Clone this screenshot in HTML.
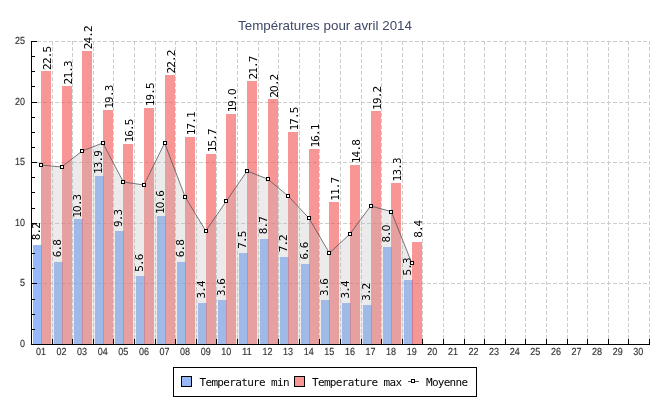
<!DOCTYPE html>
<html lang="fr"><head><meta charset="utf-8"><title>Températures pour avril 2014</title>
<style>html,body{margin:0;padding:0;background:#fff}body{width:650px;height:400px;overflow:hidden}svg{display:block;will-change:transform}.ax{font-family:"Liberation Sans",sans-serif;font-size:10.3px;text-rendering:geometricPrecision;fill:#333;stroke:#333;stroke-width:0.15px}.mono{font-family:"DejaVu Sans Mono","Liberation Mono",monospace;font-size:11px;fill:#000}.z{font-family:"DejaVu Sans","Liberation Sans",sans-serif}.ttl{font-family:"Liberation Sans",sans-serif;font-size:13.3px;fill:#3f4868}</style></head><body>
<svg width="650" height="400" viewBox="0 0 650 400">
<rect width="650" height="400" fill="#fff"/>
<text class="ttl" x="238" y="30" textLength="174" lengthAdjust="spacingAndGlyphs">Températures pour avril 2014</text>
<g stroke="#cdcdcd" stroke-width="1" stroke-dasharray="4 2" shape-rendering="crispEdges" fill="none">
<line x1="31" y1="283.5" x2="650" y2="283.5"/>
<line x1="31" y1="223.5" x2="650" y2="223.5"/>
<line x1="31" y1="162.5" x2="650" y2="162.5"/>
<line x1="31" y1="102.5" x2="650" y2="102.5"/>
<line x1="31" y1="41.5" x2="650" y2="41.5"/>
<line x1="52.5" y1="41" x2="52.5" y2="344"/>
<line x1="72.5" y1="41" x2="72.5" y2="344"/>
<line x1="93.5" y1="41" x2="93.5" y2="344"/>
<line x1="113.5" y1="41" x2="113.5" y2="344"/>
<line x1="134.5" y1="41" x2="134.5" y2="344"/>
<line x1="155.5" y1="41" x2="155.5" y2="344"/>
<line x1="175.5" y1="41" x2="175.5" y2="344"/>
<line x1="196.5" y1="41" x2="196.5" y2="344"/>
<line x1="216.5" y1="41" x2="216.5" y2="344"/>
<line x1="237.5" y1="41" x2="237.5" y2="344"/>
<line x1="258.5" y1="41" x2="258.5" y2="344"/>
<line x1="278.5" y1="41" x2="278.5" y2="344"/>
<line x1="299.5" y1="41" x2="299.5" y2="344"/>
<line x1="319.5" y1="41" x2="319.5" y2="344"/>
<line x1="340.5" y1="41" x2="340.5" y2="344"/>
<line x1="361.5" y1="41" x2="361.5" y2="344"/>
<line x1="381.5" y1="41" x2="381.5" y2="344"/>
<line x1="402.5" y1="41" x2="402.5" y2="344"/>
<line x1="422.5" y1="41" x2="422.5" y2="344"/>
<line x1="443.5" y1="41" x2="443.5" y2="344"/>
<line x1="464.5" y1="41" x2="464.5" y2="344"/>
<line x1="484.5" y1="41" x2="484.5" y2="344"/>
<line x1="505.5" y1="41" x2="505.5" y2="344"/>
<line x1="525.5" y1="41" x2="525.5" y2="344"/>
<line x1="546.5" y1="41" x2="546.5" y2="344"/>
<line x1="567.5" y1="41" x2="567.5" y2="344"/>
<line x1="587.5" y1="41" x2="587.5" y2="344"/>
<line x1="608.5" y1="41" x2="608.5" y2="344"/>
<line x1="628.5" y1="41" x2="628.5" y2="344"/>
<line x1="649.5" y1="41" x2="649.5" y2="344"/>
</g>
<g shape-rendering="crispEdges">
<rect x="33" y="244.6" width="9" height="99.4" fill="rgba(80,140,245,0.6)"/>
<rect x="41" y="71.3" width="10" height="272.7" fill="rgba(243,80,80,0.6)"/>
<rect x="54" y="261.6" width="9" height="82.4" fill="rgba(80,140,245,0.6)"/>
<rect x="62" y="85.8" width="10" height="258.2" fill="rgba(243,80,80,0.6)"/>
<rect x="74" y="219.2" width="9" height="124.8" fill="rgba(80,140,245,0.6)"/>
<rect x="82" y="50.7" width="10" height="293.3" fill="rgba(243,80,80,0.6)"/>
<rect x="95" y="175.5" width="9" height="168.5" fill="rgba(80,140,245,0.6)"/>
<rect x="103" y="110.1" width="10" height="233.9" fill="rgba(243,80,80,0.6)"/>
<rect x="115" y="231.3" width="9" height="112.7" fill="rgba(80,140,245,0.6)"/>
<rect x="123" y="144.0" width="10" height="200.0" fill="rgba(243,80,80,0.6)"/>
<rect x="136" y="276.1" width="9" height="67.9" fill="rgba(80,140,245,0.6)"/>
<rect x="144" y="107.7" width="10" height="236.3" fill="rgba(243,80,80,0.6)"/>
<rect x="157" y="215.5" width="9" height="128.5" fill="rgba(80,140,245,0.6)"/>
<rect x="165" y="74.9" width="10" height="269.1" fill="rgba(243,80,80,0.6)"/>
<rect x="177" y="261.6" width="9" height="82.4" fill="rgba(80,140,245,0.6)"/>
<rect x="185" y="136.7" width="10" height="207.3" fill="rgba(243,80,80,0.6)"/>
<rect x="198" y="302.8" width="9" height="41.2" fill="rgba(80,140,245,0.6)"/>
<rect x="206" y="153.7" width="10" height="190.3" fill="rgba(243,80,80,0.6)"/>
<rect x="218" y="300.4" width="9" height="43.6" fill="rgba(80,140,245,0.6)"/>
<rect x="226" y="113.7" width="10" height="230.3" fill="rgba(243,80,80,0.6)"/>
<rect x="239" y="253.1" width="9" height="90.9" fill="rgba(80,140,245,0.6)"/>
<rect x="247" y="81.0" width="10" height="263.0" fill="rgba(243,80,80,0.6)"/>
<rect x="260" y="238.6" width="9" height="105.4" fill="rgba(80,140,245,0.6)"/>
<rect x="268" y="99.2" width="10" height="244.8" fill="rgba(243,80,80,0.6)"/>
<rect x="280" y="256.7" width="9" height="87.3" fill="rgba(80,140,245,0.6)"/>
<rect x="288" y="131.9" width="10" height="212.1" fill="rgba(243,80,80,0.6)"/>
<rect x="301" y="264.0" width="9" height="80.0" fill="rgba(80,140,245,0.6)"/>
<rect x="309" y="148.9" width="10" height="195.1" fill="rgba(243,80,80,0.6)"/>
<rect x="321" y="300.4" width="9" height="43.6" fill="rgba(80,140,245,0.6)"/>
<rect x="329" y="202.2" width="10" height="141.8" fill="rgba(243,80,80,0.6)"/>
<rect x="342" y="302.8" width="9" height="41.2" fill="rgba(80,140,245,0.6)"/>
<rect x="350" y="164.6" width="10" height="179.4" fill="rgba(243,80,80,0.6)"/>
<rect x="363" y="305.2" width="9" height="38.8" fill="rgba(80,140,245,0.6)"/>
<rect x="371" y="111.3" width="10" height="232.7" fill="rgba(243,80,80,0.6)"/>
<rect x="383" y="247.0" width="9" height="97.0" fill="rgba(80,140,245,0.6)"/>
<rect x="391" y="182.8" width="10" height="161.2" fill="rgba(243,80,80,0.6)"/>
<rect x="404" y="279.8" width="9" height="64.2" fill="rgba(80,140,245,0.6)"/>
<rect x="412" y="242.2" width="10" height="101.8" fill="rgba(243,80,80,0.6)"/>
</g>
<path d="M41.0 344 L41.0 165.0 L61.6 167.0 L82.2 151.0 L102.8 143.0 L123.4 182.0 L144.0 185.0 L164.6 143.0 L185.2 197.0 L205.8 231.0 L226.4 201.0 L247.0 171.0 L267.6 179.0 L288.2 196.0 L308.8 218.0 L329.4 253.0 L350.0 234.0 L370.6 206.0 L391.2 211.5 L411.8 263.0 L411.8 344 Z" fill="rgb(185,185,185)" fill-opacity="0.29"/>
<g class="mono">
<text transform="translate(39.7 231.2) rotate(-90)" text-anchor="middle" textLength="18" lengthAdjust="spacing">8.2</text>
<text transform="translate(50.6 57.9) rotate(-90)" text-anchor="middle" textLength="24" lengthAdjust="spacing">22.5</text>
<text transform="translate(60.7 248.2) rotate(-90)" text-anchor="middle" textLength="18" lengthAdjust="spacing">6.8</text>
<text transform="translate(71.6 72.4) rotate(-90)" text-anchor="middle" textLength="24" lengthAdjust="spacing">21.3</text>
<text transform="translate(80.7 205.8) rotate(-90)" text-anchor="middle" textLength="24" lengthAdjust="spacing">1<tspan class="z">0</tspan>.3</text>
<text transform="translate(91.6 37.3) rotate(-90)" text-anchor="middle" textLength="24" lengthAdjust="spacing">24.2</text>
<text transform="translate(101.7 162.1) rotate(-90)" text-anchor="middle" textLength="24" lengthAdjust="spacing">13.9</text>
<text transform="translate(112.6 96.7) rotate(-90)" text-anchor="middle" textLength="24" lengthAdjust="spacing">19.3</text>
<text transform="translate(121.7 217.9) rotate(-90)" text-anchor="middle" textLength="18" lengthAdjust="spacing">9.3</text>
<text transform="translate(132.6 130.6) rotate(-90)" text-anchor="middle" textLength="24" lengthAdjust="spacing">16.5</text>
<text transform="translate(142.7 262.7) rotate(-90)" text-anchor="middle" textLength="18" lengthAdjust="spacing">5.6</text>
<text transform="translate(153.6 94.3) rotate(-90)" text-anchor="middle" textLength="24" lengthAdjust="spacing">19.5</text>
<text transform="translate(163.7 202.1) rotate(-90)" text-anchor="middle" textLength="24" lengthAdjust="spacing">1<tspan class="z">0</tspan>.6</text>
<text transform="translate(174.6 61.5) rotate(-90)" text-anchor="middle" textLength="24" lengthAdjust="spacing">22.2</text>
<text transform="translate(183.7 248.2) rotate(-90)" text-anchor="middle" textLength="18" lengthAdjust="spacing">6.8</text>
<text transform="translate(194.6 123.3) rotate(-90)" text-anchor="middle" textLength="24" lengthAdjust="spacing">17.1</text>
<text transform="translate(204.7 289.4) rotate(-90)" text-anchor="middle" textLength="18" lengthAdjust="spacing">3.4</text>
<text transform="translate(215.6 140.3) rotate(-90)" text-anchor="middle" textLength="24" lengthAdjust="spacing">15.7</text>
<text transform="translate(224.7 287.0) rotate(-90)" text-anchor="middle" textLength="18" lengthAdjust="spacing">3.6</text>
<text transform="translate(235.6 100.3) rotate(-90)" text-anchor="middle" textLength="24" lengthAdjust="spacing">19.<tspan class="z">0</tspan></text>
<text transform="translate(245.7 239.7) rotate(-90)" text-anchor="middle" textLength="18" lengthAdjust="spacing">7.5</text>
<text transform="translate(256.6 67.6) rotate(-90)" text-anchor="middle" textLength="24" lengthAdjust="spacing">21.7</text>
<text transform="translate(266.7 225.2) rotate(-90)" text-anchor="middle" textLength="18" lengthAdjust="spacing">8.7</text>
<text transform="translate(277.6 85.8) rotate(-90)" text-anchor="middle" textLength="24" lengthAdjust="spacing">2<tspan class="z">0</tspan>.2</text>
<text transform="translate(286.7 243.3) rotate(-90)" text-anchor="middle" textLength="18" lengthAdjust="spacing">7.2</text>
<text transform="translate(297.6 118.5) rotate(-90)" text-anchor="middle" textLength="24" lengthAdjust="spacing">17.5</text>
<text transform="translate(307.7 250.6) rotate(-90)" text-anchor="middle" textLength="18" lengthAdjust="spacing">6.6</text>
<text transform="translate(318.6 135.5) rotate(-90)" text-anchor="middle" textLength="24" lengthAdjust="spacing">16.1</text>
<text transform="translate(327.7 287.0) rotate(-90)" text-anchor="middle" textLength="18" lengthAdjust="spacing">3.6</text>
<text transform="translate(338.6 188.8) rotate(-90)" text-anchor="middle" textLength="24" lengthAdjust="spacing">11.7</text>
<text transform="translate(348.7 289.4) rotate(-90)" text-anchor="middle" textLength="18" lengthAdjust="spacing">3.4</text>
<text transform="translate(359.6 151.2) rotate(-90)" text-anchor="middle" textLength="24" lengthAdjust="spacing">14.8</text>
<text transform="translate(369.7 291.8) rotate(-90)" text-anchor="middle" textLength="18" lengthAdjust="spacing">3.2</text>
<text transform="translate(380.6 97.9) rotate(-90)" text-anchor="middle" textLength="24" lengthAdjust="spacing">19.2</text>
<text transform="translate(389.7 233.6) rotate(-90)" text-anchor="middle" textLength="18" lengthAdjust="spacing">8.<tspan class="z">0</tspan></text>
<text transform="translate(400.6 169.4) rotate(-90)" text-anchor="middle" textLength="24" lengthAdjust="spacing">13.3</text>
<text transform="translate(410.7 266.4) rotate(-90)" text-anchor="middle" textLength="18" lengthAdjust="spacing">5.3</text>
<text transform="translate(421.6 228.8) rotate(-90)" text-anchor="middle" textLength="18" lengthAdjust="spacing">8.4</text>
</g>
<polyline points="41.0,165.0 61.6,167.0 82.2,151.0 102.8,143.0 123.4,182.0 144.0,185.0 164.6,143.0 185.2,197.0 205.8,231.0 226.4,201.0 247.0,171.0 267.6,179.0 288.2,196.0 308.8,218.0 329.4,253.0 350.0,234.0 370.6,206.0 391.2,211.5 411.8,263.0" fill="none" stroke="#555" stroke-width="0.8"/>
<g shape-rendering="crispEdges">
<rect x="39" y="163" width="4" height="4" fill="#000"/><rect x="40" y="164" width="2" height="2" fill="#fff"/>
<rect x="60" y="165" width="4" height="4" fill="#000"/><rect x="61" y="166" width="2" height="2" fill="#fff"/>
<rect x="80" y="149" width="4" height="4" fill="#000"/><rect x="81" y="150" width="2" height="2" fill="#fff"/>
<rect x="101" y="141" width="4" height="4" fill="#000"/><rect x="102" y="142" width="2" height="2" fill="#fff"/>
<rect x="121" y="180" width="4" height="4" fill="#000"/><rect x="122" y="181" width="2" height="2" fill="#fff"/>
<rect x="142" y="183" width="4" height="4" fill="#000"/><rect x="143" y="184" width="2" height="2" fill="#fff"/>
<rect x="163" y="141" width="4" height="4" fill="#000"/><rect x="164" y="142" width="2" height="2" fill="#fff"/>
<rect x="183" y="195" width="4" height="4" fill="#000"/><rect x="184" y="196" width="2" height="2" fill="#fff"/>
<rect x="204" y="229" width="4" height="4" fill="#000"/><rect x="205" y="230" width="2" height="2" fill="#fff"/>
<rect x="224" y="199" width="4" height="4" fill="#000"/><rect x="225" y="200" width="2" height="2" fill="#fff"/>
<rect x="245" y="169" width="4" height="4" fill="#000"/><rect x="246" y="170" width="2" height="2" fill="#fff"/>
<rect x="266" y="177" width="4" height="4" fill="#000"/><rect x="267" y="178" width="2" height="2" fill="#fff"/>
<rect x="286" y="194" width="4" height="4" fill="#000"/><rect x="287" y="195" width="2" height="2" fill="#fff"/>
<rect x="307" y="216" width="4" height="4" fill="#000"/><rect x="308" y="217" width="2" height="2" fill="#fff"/>
<rect x="327" y="251" width="4" height="4" fill="#000"/><rect x="328" y="252" width="2" height="2" fill="#fff"/>
<rect x="348" y="232" width="4" height="4" fill="#000"/><rect x="349" y="233" width="2" height="2" fill="#fff"/>
<rect x="369" y="204" width="4" height="4" fill="#000"/><rect x="370" y="205" width="2" height="2" fill="#fff"/>
<rect x="389" y="210" width="4" height="4" fill="#000"/><rect x="390" y="211" width="2" height="2" fill="#fff"/>
<rect x="410" y="261" width="4" height="4" fill="#000"/><rect x="411" y="262" width="2" height="2" fill="#fff"/>
</g>
<g fill="#000" shape-rendering="crispEdges">
<rect x="31" y="41" width="1" height="304"/>
<rect x="31" y="344" width="619" height="1"/>
<rect x="31" y="344" width="6" height="1"/>
<rect x="31" y="329" width="4" height="1"/>
<rect x="31" y="314" width="4" height="1"/>
<rect x="31" y="299" width="4" height="1"/>
<rect x="31" y="283" width="6" height="1"/>
<rect x="31" y="268" width="4" height="1"/>
<rect x="31" y="253" width="4" height="1"/>
<rect x="31" y="238" width="4" height="1"/>
<rect x="31" y="223" width="6" height="1"/>
<rect x="31" y="208" width="4" height="1"/>
<rect x="31" y="192" width="4" height="1"/>
<rect x="31" y="177" width="4" height="1"/>
<rect x="31" y="162" width="6" height="1"/>
<rect x="31" y="147" width="4" height="1"/>
<rect x="31" y="132" width="4" height="1"/>
<rect x="31" y="117" width="4" height="1"/>
<rect x="31" y="102" width="6" height="1"/>
<rect x="31" y="86" width="4" height="1"/>
<rect x="31" y="71" width="4" height="1"/>
<rect x="31" y="56" width="4" height="1"/>
<rect x="31" y="41" width="6" height="1"/>
<rect x="52" y="339" width="1" height="5"/>
<rect x="72" y="339" width="1" height="5"/>
<rect x="93" y="339" width="1" height="5"/>
<rect x="113" y="339" width="1" height="5"/>
<rect x="134" y="339" width="1" height="5"/>
<rect x="155" y="339" width="1" height="5"/>
<rect x="175" y="339" width="1" height="5"/>
<rect x="196" y="339" width="1" height="5"/>
<rect x="216" y="339" width="1" height="5"/>
<rect x="237" y="339" width="1" height="5"/>
<rect x="258" y="339" width="1" height="5"/>
<rect x="278" y="339" width="1" height="5"/>
<rect x="299" y="339" width="1" height="5"/>
<rect x="319" y="339" width="1" height="5"/>
<rect x="340" y="339" width="1" height="5"/>
<rect x="361" y="339" width="1" height="5"/>
<rect x="381" y="339" width="1" height="5"/>
<rect x="402" y="339" width="1" height="5"/>
<rect x="422" y="339" width="1" height="5"/>
<rect x="443" y="339" width="1" height="5"/>
<rect x="464" y="339" width="1" height="5"/>
<rect x="484" y="339" width="1" height="5"/>
<rect x="505" y="339" width="1" height="5"/>
<rect x="525" y="339" width="1" height="5"/>
<rect x="546" y="339" width="1" height="5"/>
<rect x="567" y="339" width="1" height="5"/>
<rect x="587" y="339" width="1" height="5"/>
<rect x="608" y="339" width="1" height="5"/>
<rect x="628" y="339" width="1" height="5"/>
<rect x="649" y="339" width="1" height="5"/>
</g>
<g class="ax">
<text x="25" y="347" text-anchor="end" textLength="5.0" lengthAdjust="spacingAndGlyphs">0</text>
<text x="25" y="286" text-anchor="end" textLength="5.0" lengthAdjust="spacingAndGlyphs">5</text>
<text x="25" y="226" text-anchor="end" textLength="10.0" lengthAdjust="spacingAndGlyphs">10</text>
<text x="25" y="165" text-anchor="end" textLength="10.0" lengthAdjust="spacingAndGlyphs">15</text>
<text x="25" y="105" text-anchor="end" textLength="10.0" lengthAdjust="spacingAndGlyphs">20</text>
<text x="25" y="44" text-anchor="end" textLength="10.0" lengthAdjust="spacingAndGlyphs">25</text>
<text x="40.9" y="355" text-anchor="middle" textLength="10" lengthAdjust="spacingAndGlyphs">01</text>
<text x="61.5" y="355" text-anchor="middle" textLength="10" lengthAdjust="spacingAndGlyphs">02</text>
<text x="82.1" y="355" text-anchor="middle" textLength="10" lengthAdjust="spacingAndGlyphs">03</text>
<text x="102.7" y="355" text-anchor="middle" textLength="10" lengthAdjust="spacingAndGlyphs">04</text>
<text x="123.3" y="355" text-anchor="middle" textLength="10" lengthAdjust="spacingAndGlyphs">05</text>
<text x="143.9" y="355" text-anchor="middle" textLength="10" lengthAdjust="spacingAndGlyphs">06</text>
<text x="164.5" y="355" text-anchor="middle" textLength="10" lengthAdjust="spacingAndGlyphs">07</text>
<text x="185.1" y="355" text-anchor="middle" textLength="10" lengthAdjust="spacingAndGlyphs">08</text>
<text x="205.7" y="355" text-anchor="middle" textLength="10" lengthAdjust="spacingAndGlyphs">09</text>
<text x="226.3" y="355" text-anchor="middle" textLength="10" lengthAdjust="spacingAndGlyphs">10</text>
<text x="246.9" y="355" text-anchor="middle" textLength="10" lengthAdjust="spacingAndGlyphs">11</text>
<text x="267.5" y="355" text-anchor="middle" textLength="10" lengthAdjust="spacingAndGlyphs">12</text>
<text x="288.1" y="355" text-anchor="middle" textLength="10" lengthAdjust="spacingAndGlyphs">13</text>
<text x="308.7" y="355" text-anchor="middle" textLength="10" lengthAdjust="spacingAndGlyphs">14</text>
<text x="329.3" y="355" text-anchor="middle" textLength="10" lengthAdjust="spacingAndGlyphs">15</text>
<text x="349.9" y="355" text-anchor="middle" textLength="10" lengthAdjust="spacingAndGlyphs">16</text>
<text x="370.5" y="355" text-anchor="middle" textLength="10" lengthAdjust="spacingAndGlyphs">17</text>
<text x="391.1" y="355" text-anchor="middle" textLength="10" lengthAdjust="spacingAndGlyphs">18</text>
<text x="411.7" y="355" text-anchor="middle" textLength="10" lengthAdjust="spacingAndGlyphs">19</text>
<text x="432.3" y="355" text-anchor="middle" textLength="10" lengthAdjust="spacingAndGlyphs">20</text>
<text x="452.9" y="355" text-anchor="middle" textLength="10" lengthAdjust="spacingAndGlyphs">21</text>
<text x="473.5" y="355" text-anchor="middle" textLength="10" lengthAdjust="spacingAndGlyphs">22</text>
<text x="494.1" y="355" text-anchor="middle" textLength="10" lengthAdjust="spacingAndGlyphs">23</text>
<text x="514.7" y="355" text-anchor="middle" textLength="10" lengthAdjust="spacingAndGlyphs">24</text>
<text x="535.3" y="355" text-anchor="middle" textLength="10" lengthAdjust="spacingAndGlyphs">25</text>
<text x="555.9" y="355" text-anchor="middle" textLength="10" lengthAdjust="spacingAndGlyphs">26</text>
<text x="576.5" y="355" text-anchor="middle" textLength="10" lengthAdjust="spacingAndGlyphs">27</text>
<text x="597.1" y="355" text-anchor="middle" textLength="10" lengthAdjust="spacingAndGlyphs">28</text>
<text x="617.7" y="355" text-anchor="middle" textLength="10" lengthAdjust="spacingAndGlyphs">29</text>
<text x="638.3" y="355" text-anchor="middle" textLength="10" lengthAdjust="spacingAndGlyphs">30</text>
</g>
<g shape-rendering="crispEdges">
<rect x="173.5" y="367.5" width="303" height="29" fill="#fff" stroke="#000" stroke-width="1"/>
<rect x="181.5" y="376.5" width="10" height="10" fill="rgba(80,140,245,0.6)" stroke="#000" stroke-width="1"/>
<rect x="294.5" y="376.5" width="10" height="10" fill="rgba(243,80,80,0.6)" stroke="#000" stroke-width="1"/>
<rect x="408" y="381" width="11" height="1" fill="#555"/>
<rect x="411" y="379" width="4" height="4" fill="#000"/><rect x="412" y="380" width="2" height="2" fill="#fff"/>
</g>
<g class="mono">
<text x="199.5" y="386" textLength="90" lengthAdjust="spacing">Temperature min</text>
<text x="312" y="386" textLength="90" lengthAdjust="spacing">Temperature max</text>
<text x="426" y="386" textLength="42" lengthAdjust="spacing">Moyenne</text>
</g>
</svg></body></html>
